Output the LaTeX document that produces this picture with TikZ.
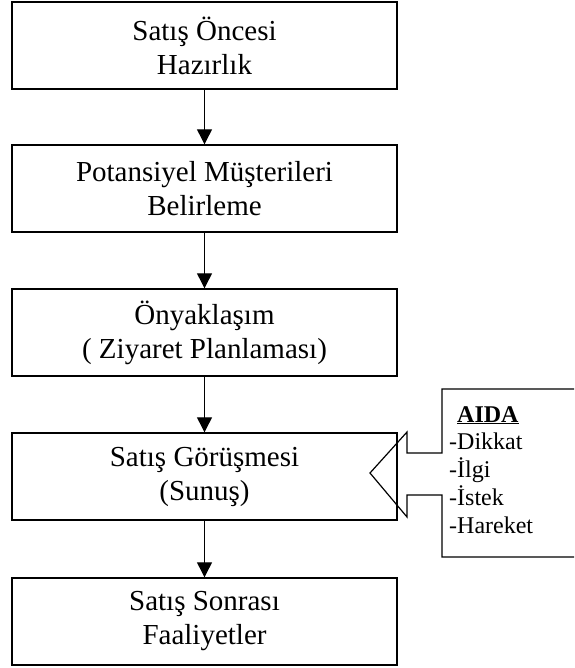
\documentclass[tikz,border=0pt]{standalone}
\usepackage{fontspec}
\setmainfont{Liberation Serif}
\usetikzlibrary{arrows.meta}
\tikzset{
  stepbox/.style={draw, line width=1.4pt, minimum width=385pt, minimum height=87pt,
    inner sep=0pt, align=center, font=\fontsize{29}{34}\selectfont},
  flow/.style={line width=1.2pt, -{Triangle[length=15pt,width=15pt]}},
  callout/.style={draw, line width=1.2pt, line join=miter},
  listtext/.style={inner sep=0pt, align=left, font=\fontsize{24}{27.8}\selectfont}
}
\begin{document}
\begin{tikzpicture}[x=1pt,y=-1pt]
\useasboundingbox (0,0) rectangle (574,668);

% process steps
\node[stepbox] (b1) at (204.5,45.5)  {Satış Öncesi\\Hazırlık};
\node[stepbox] (b2) at (204.5,188.5) {Potansiyel Müşterileri\\Belirleme};
\node[stepbox] (b3) at (204.5,332.5) {Önyaklaşım\\( Ziyaret Planlaması)};
\node[stepbox] (b4) at (204.5,476.5) {Satış Görüşmesi\\(Sunuş)};
\node[stepbox] (b5) at (204.5,621.5) {Satış Sonrası\\Faaliyetler};

\draw[flow] (b1) -- (b2);
\draw[flow] (b2) -- (b3);
\draw[flow] (b3) -- (b4);
\draw[flow] (b4) -- (b5);

% AIDA callout: box open to the right, with a block arrow pointing at the talk step
\coordinate (tip) at (370,473);
\draw[callout] (574,389) -- (442,389) -- (442,453) -- (407,453) -- (407,432)
  -- (tip) -- (407,517) -- (407,495) -- (442,495) -- (442,557) -- (574,557);

\node[listtext, anchor=north west] (aida) at (449,406)
  {\hspace*{8pt}\underline{\textbf{AIDA}}\\-Dikkat\\-İlgi\\-İstek\\-Hareket};
\end{tikzpicture}
\end{document}
